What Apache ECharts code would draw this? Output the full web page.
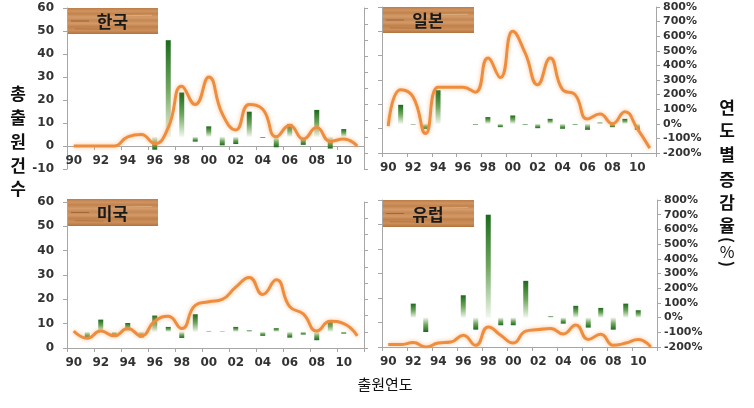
<!DOCTYPE html>
<html>
<head>
<meta charset="utf-8">
<script src="https://cdn.jsdelivr.net/npm/echarts@6/dist/echarts.min.js"></script>
<style>
html,body{margin:0;padding:0;background:#fff;}
#chart{width:754px;height:408px;}
</style>
</head>
<body>
<div id="chart"></div>
<script>
// ---- data ----
const years = ['90','91','92','93','94','95','96','97','98','99','00','01','02','03','04','05','06','07','08','09','10','11'];
const panelNames = ['한국', '일본', '미국', '유럽'];

// total applications (left axis) per year
const krCount = [0,0,0,0,4,5,1,8,26,18,30,14,7,18,16,4,9,3,8,2,3,0];
const jpCount = [11,26,23,8,27,27,27,25,39,31,50,41,28,39,26,24,14,16,12,17,10,2];
const usCount = [7,4,7,5,8,5,11,13,8,17.5,19,20,25,29,22,28,17,14,7,11,10,5];
const euCount = [1,1,1.8,0,1.6,2,4.8,0.7,8.2,4.8,1.6,6.5,7.1,7.6,5.3,9,3.1,5.2,0.7,1.6,3.1,0];

// yearly change rate in % (right axis)
const krRate = [null,null,null,null,null,null,-80,600,275,-30,65,-53,-45,156,-6,-65,80,-50,167,-73,48,null];
const jpRate = [null,130,-4,-35,230,null,null,-5,46,-23,57,-5,-30,34,-34,-5,-41,8,-23,34,-41,null];
const usRate = [null,-40,75,-25,54,-35,100,30,-38,108,5,2,30,8,-25,22,-36,-17,-52,70,-11,null];
const euRate = [null,null,95,-98,null,null,152,-82,700,-52,-52,250,null,8,-41,80,-68,66,-82,95,50,null];

// axis tick ranges
const countTicksKR = {min:-10, max:60, interval:10};
const countTicks = {min:0, max:60, interval:10};
const rateTicks = {min:-200, max:800, interval:100};
const rateTicksUS = {min:-100, max:800, interval:100};

// ---- chart ----
const chart = echarts.init(document.getElementById('chart'), null, {renderer:'canvas'});

const axisColor = '#a6a6a6';
const labelFont = {fontFamily:'DejaVu Sans', fontWeight:'bold', color:'#333'};

const grids = [
  {left:67, right:390, top:8, bottom:239},
  {left:382, right:98, top:7, bottom:255},
  {left:67, right:390, top:202, bottom:60},
  {left:382, right:97, top:200, bottom:61}
];
// x axis of the Korea panel sits on the zero line of its left axis
const xOffsets = [-23, 0, 0, 0];

const counts = [krCount, jpCount, usCount, euCount];
const rates = [krRate, jpRate, usRate, euRate];
const leftRanges = [countTicksKR, countTicks, countTicks, countTicks];
const rightRanges = [rateTicks, rateTicks, rateTicksUS, rateTicks];
const showLeft = [true, false, true, false];
const showRight = [false, true, false, true];

function grad(neg){
  const dark = '#1c6a1c', mid = '#6ea65c', light = '#f1f7ee';
  return {type:'linear', x:0, y:0, x2:0, y2:1, colorStops: neg ?
    [{offset:0,color:light},{offset:0.5,color:mid},{offset:1,color:dark}] :
    [{offset:0,color:dark},{offset:0.5,color:mid},{offset:1,color:light}]};
}

const xAxis = [], yAxis = [], series = [];
for (let i = 0; i < 4; i++) {
  xAxis.push({
    type:'category', gridIndex:i, data:years, boundaryGap:true, position:'bottom', offset:xOffsets[i],
    axisLine:{show:true, onZero:false, lineStyle:{color:axisColor, width:1}},
    axisTick:{show:true, length:4, lineStyle:{color:axisColor}},
    axisLabel:Object.assign({interval:1, fontSize:12, margin:9}, labelFont),
    splitLine:{show:false}
  });
  yAxis.push(Object.assign({
    type:'value', gridIndex:i, position:'left',
    axisLine:{show:true, lineStyle:{color:axisColor}},
    axisTick:{show:true, length:4, lineStyle:{color:axisColor}},
    axisLabel:Object.assign({show:showLeft[i], fontSize:12, margin:13}, labelFont),
    splitLine:{show:false}
  }, leftRanges[i]));
  yAxis.push(Object.assign({
    type:'value', gridIndex:i, position:'right',
    axisLine:{show:true, lineStyle:{color:axisColor}},
    axisTick:{show:true, length:4, lineStyle:{color:axisColor}},
    axisLabel:Object.assign({show:showRight[i], fontSize:11, margin:7, formatter:'{value}%'}, labelFont),
    splitLine:{show:false}
  }, rightRanges[i]));
  series.push({
    type:'bar', xAxisIndex:i, yAxisIndex:2*i+1, data:rates[i], barWidth:5, z:2,
    itemStyle:{color: p => grad(p.value < 0)},
    silent:true
  });
  series.push({
    type:'line', xAxisIndex:i, yAxisIndex:2*i, data:counts[i], smooth:0.5,
    symbol:'none', z:5, silent:true,
    lineStyle:{color:'#ef8d3e', width:3, shadowColor:'rgba(245,165,100,0.7)', shadowBlur:4}
  });
}

// wood-textured title boxes
function woodBox(x, y, w, h, text){
  const stops = [
    {offset:0,color:'#bd7c47'},{offset:0.12,color:'#cf9461'},{offset:0.22,color:'#c2824c'},
    {offset:0.35,color:'#d39c6a'},{offset:0.48,color:'#c58753'},{offset:0.6,color:'#d29a68'},
    {offset:0.72,color:'#c0804a'},{offset:0.86,color:'#cc905c'},{offset:1,color:'#b3723d'}
  ];
  return {
    type:'group', left:x, top:y, z:10,
    children:[
      {type:'rect', shape:{x:0, y:0, width:w, height:h},
       style:{fill:{type:'linear', x:0, y:0, x2:0, y2:1, colorStops:stops}}},
      {type:'line', shape:{x1:4, y1:h*0.5, x2:22, y2:h*0.5}, style:{stroke:'rgba(130,75,30,0.55)', lineWidth:1}},
      {type:'line', shape:{x1:w*0.55, y1:h*0.3, x2:w-6, y2:h*0.28}, style:{stroke:'rgba(230,190,145,0.6)', lineWidth:1}},
      {type:'line', shape:{x1:8, y1:h*0.8, x2:w*0.4, y2:h*0.82}, style:{stroke:'rgba(150,90,45,0.4)', lineWidth:1}},
      {type:'text', x:w/2, y:h/2+1, style:{text:text, fill:'#1a1a1a', font:'bold 17px "Noto Sans CJK KR"', textAlign:'center', textVerticalAlign:'middle'}}
    ]
  };
}

const graphic = [
  woodBox(67, 8, 91, 26, panelNames[0]),
  woodBox(382, 7, 92, 26, panelNames[1]),
  woodBox(67, 199, 91, 27, panelNames[2]),
  woodBox(382, 200, 92, 27, panelNames[3])
];

const titleFont = '"Noto Sans CJK KR"';
const leftTitle = ['총','출','원','건','수'];
const leftY = [94, 118, 142, 166, 189];
leftTitle.forEach((c, k) => graphic.push({type:'text', x:18, y:leftY[k], style:{text:c, fill:'#111', font:'bold 17px ' + titleFont, textAlign:'center', textVerticalAlign:'middle'}}));
const rightTitle = ['연','도','별','증','감','율'];
const rightY = [108, 131, 155, 180, 203, 226];
rightTitle.forEach((c, k) => graphic.push({type:'text', x:727, y:rightY[k], style:{text:c, fill:'#111', font:'bold 17px ' + titleFont, textAlign:'center', textVerticalAlign:'middle'}}));
graphic.push({type:'text', x:727, y:240, rotation:-Math.PI/2, style:{text:'(', fill:'#111', font:'bold 16px ' + titleFont, textAlign:'center', textVerticalAlign:'middle'}});
graphic.push({type:'text', x:727, y:252, style:{text:'%', fill:'#111', font:'16px ' + titleFont, textAlign:'center', textVerticalAlign:'middle'}});
graphic.push({type:'text', x:727, y:264, rotation:-Math.PI/2, style:{text:')', fill:'#111', font:'bold 16px ' + titleFont, textAlign:'center', textVerticalAlign:'middle'}});
graphic.push({type:'text', x:385, y:384, style:{text:'출원연도', fill:'#111', font:'15px ' + titleFont, textAlign:'center', textVerticalAlign:'middle'}});

chart.setOption({
  animation:false,
  backgroundColor:'#ffffff',
  grid:grids,
  xAxis:xAxis,
  yAxis:yAxis,
  series:series,
  graphic:graphic
});
</script>
</body>
</html>
